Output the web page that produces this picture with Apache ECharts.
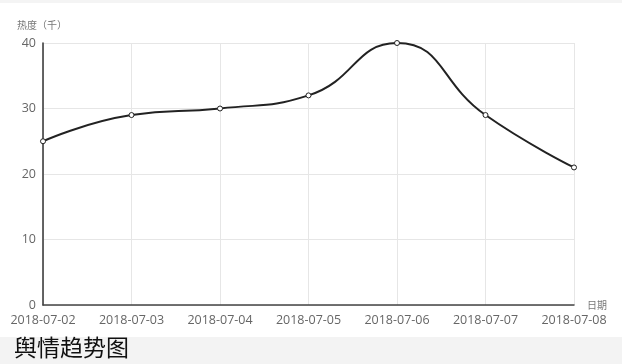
<!DOCTYPE html>
<html><head><meta charset="utf-8">
<script src="https://cdn.jsdelivr.net/npm/echarts@6/dist/echarts.min.js"></script>
<style>html,body{margin:0;padding:0;background:#fff}#c{width:622px;height:364px}</style>
</head><body><div id="c"></div>
<script>
const categories = ['2018-07-02','2018-07-03','2018-07-04','2018-07-05','2018-07-06','2018-07-07','2018-07-08'];
const heatValues = [25, 29, 30, 32, 40, 29, 21];
const yTicks = {min: 0, max: 40, interval: 10};
const titleText = '舆情趋势图';

const chart = echarts.init(document.getElementById('c'), null, {renderer: 'canvas'});
chart.setOption({
  animation: false,
  backgroundColor: '#fff',
  textStyle: {fontFamily: '"Open Sans", "Noto Sans CJK SC", sans-serif'},
  grid: {left: 43, right: 48, top: 43, bottom: 59, containLabel: false},
  graphic: [
    {type: 'rect', left: 0, top: 0, shape: {width: 622, height: 3}, style: {fill: '#f4f4f4'}},
    {type: 'rect', left: 0, top: 337, shape: {width: 622, height: 27}, style: {fill: '#f3f3f3'}},
    {type: 'text', left: 14, top: 336, style: {text: titleText, fontSize: 23, fill: '#111', fontFamily: '"Noto Sans CJK SC", serif'}}
  ],
  xAxis: {
    type: 'category', data: categories, boundaryGap: false,
    name: '日期', nameGap: 13,
    nameTextStyle: {color: '#777', fontSize: 10, verticalAlign: 'top', padding: [-4, 0, 0, 0]},
    axisLine: {lineStyle: {color: '#444', width: 1.5}},
    axisTick: {show: false},
    axisLabel: {color: '#666', fontSize: 12.5, margin: 9},
    splitLine: {show: true, lineStyle: {color: '#e6e6e6'}}
  },
  yAxis: {
    type: 'value', min: yTicks.min, max: yTicks.max, interval: yTicks.interval,
    name: '热度（千）', nameGap: 12,
    nameTextStyle: {color: '#777', fontSize: 10, align: 'left', padding: [0, 0, 0, -26]},
    axisLine: {show: true, lineStyle: {color: '#333', width: 1.5}},
    axisTick: {show: false},
    axisLabel: {color: '#666', fontSize: 12.5, margin: 7},
    splitLine: {show: true, lineStyle: {color: '#e6e6e6'}}
  },
  series: [{
    type: 'line', data: heatValues, smooth: true,
    symbol: 'circle', symbolSize: 5,
    itemStyle: {color: '#fff', borderColor: '#222', borderWidth: 1},
    lineStyle: {color: '#222', width: 2}
  }]
});
</script></body></html>
